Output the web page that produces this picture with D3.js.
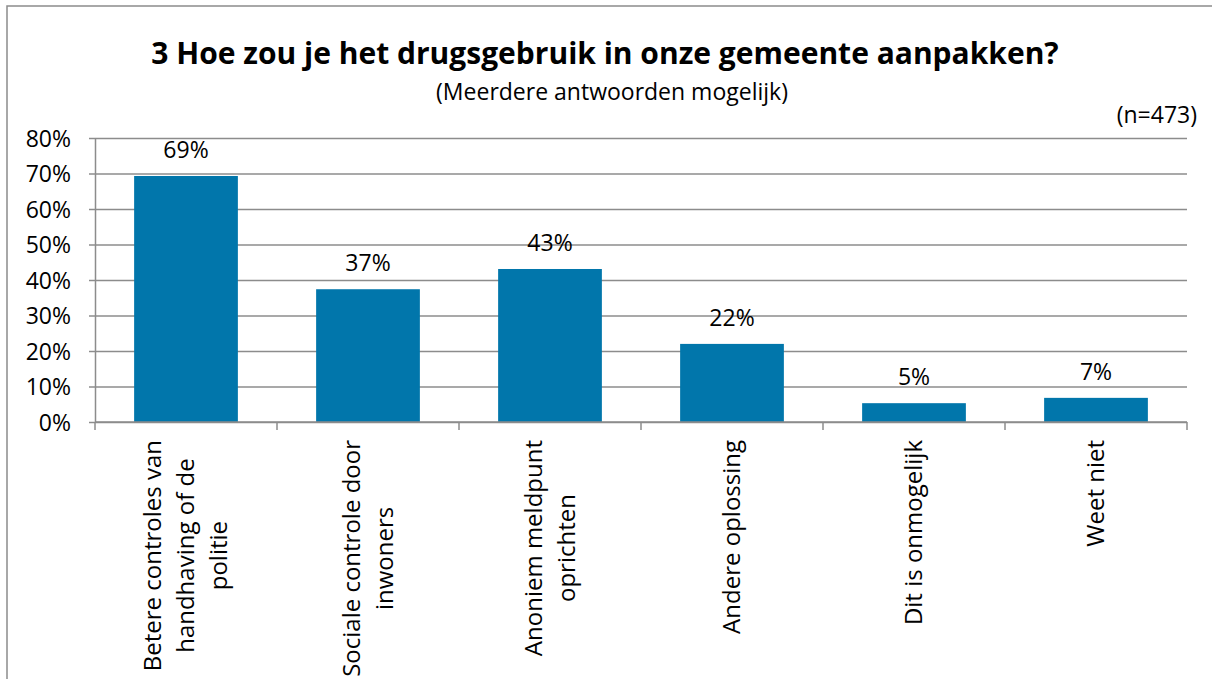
<!DOCTYPE html>
<html>
<head>
<meta charset="utf-8">
<title>Drugsgebruik aanpakken</title>
<script src="https://d3js.org/d3.v7.min.js"></script>
<style>
  body { margin: 0; background: #fff; }
  text { font-family: "Open Sans", "Segoe UI", sans-serif; fill: #000; }
  .grid line { stroke: #8c8c8c; stroke-width: 1.5; }
  .grid path { display: none; }
  .axis path, .axis line { stroke: #8c8c8c; stroke-width: 1.5; }
</style>
</head>
<body>
<div id="chart"></div>
<script>
// data
var categories = [
  ["Betere controles van", "handhaving of de", "politie"],
  ["Sociale controle door", "inwoners"],
  ["Anoniem meldpunt", "oprichten"],
  ["Andere oplossing"],
  ["Dit is onmogelijk"],
  ["Weet niet"]
];
var values = [0.693, 0.374, 0.431, 0.220, 0.053, 0.068];
var valueLabels = ["69%", "37%", "43%", "22%", "5%", "7%"];
var yTicks = [0, 0.1, 0.2, 0.3, 0.4, 0.5, 0.6, 0.7, 0.8];

var W = 1212, H = 679;
var plotLeft = 95, plotRight = 1187, plotTop = 138, plotBottom = 422;

var svg = d3.select("#chart").append("svg")
  .attr("width", W).attr("height", H);

// outer frame
svg.append("rect")
  .attr("x", 7).attr("y", 6)
  .attr("width", W + 20).attr("height", H + 20)
  .attr("fill", "none").attr("stroke", "#8c8c8c").attr("stroke-width", 1.5);

svg.append("text")
  .attr("x", 605).attr("y", 64)
  .attr("text-anchor", "middle")
  .style("font-size", "30px").style("font-weight", "bold")
  .text("3 Hoe zou je het drugsgebruik in onze gemeente aanpakken?");

svg.append("text")
  .attr("x", 612).attr("y", 100)
  .attr("text-anchor", "middle")
  .style("font-size", "23px")
  .text("(Meerdere antwoorden mogelijk)");

svg.append("text")
  .attr("x", 1197).attr("y", 123)
  .attr("text-anchor", "end")
  .style("font-size", "23px")
  .text("(n=473)");

var x = d3.scaleBand()
  .domain(d3.range(categories.length))
  .range([plotLeft, plotRight])
  .paddingInner(0.43).paddingOuter(0.215);

var y = d3.scaleLinear().domain([0, 0.8]).range([plotBottom, plotTop]);

// gridlines
svg.append("g").attr("class", "grid")
  .attr("transform", "translate(" + plotLeft + ",0)")
  .call(d3.axisLeft(y).tickValues(yTicks).tickSize(-(plotRight - plotLeft)).tickFormat(""));

// y axis
var yAx = svg.append("g").attr("class", "axis")
  .attr("transform", "translate(" + plotLeft + ",0)")
  .call(d3.axisLeft(y).tickValues(yTicks).tickSize(6).tickSizeOuter(0)
    .tickFormat(d3.format(".0%")));
yAx.selectAll("text").style("font-size", "23px").attr("x", -24).attr("dy", "0.35em");

// bars
svg.selectAll("rect.bar").data(values).enter().append("rect")
  .attr("class", "bar")
  .attr("x", function(d, i) { return x(i); })
  .attr("width", x.bandwidth())
  .attr("y", function(d) { return y(d); })
  .attr("height", function(d) { return y(0) - y(d); })
  .attr("fill", "#0176ab");

// value labels
svg.selectAll("text.val").data(values).enter().append("text")
  .attr("class", "val")
  .attr("x", function(d, i) { return x(i) + x.bandwidth() / 2; })
  .attr("y", function(d) { return y(d) - 18; })
  .attr("text-anchor", "middle")
  .style("font-size", "23px")
  .text(function(d, i) { return valueLabels[i]; });

// x axis with ticks between categories
var step = (plotRight - plotLeft) / categories.length;
var xAx = svg.append("g").attr("class", "axis");
xAx.append("line").attr("x1", plotLeft).attr("x2", plotRight).attr("y1", plotBottom).attr("y2", plotBottom);
xAx.selectAll("line.tk").data(d3.range(categories.length + 1)).enter().append("line")
  .attr("class", "tk")
  .attr("x1", function(d) { return plotLeft + d * step; })
  .attr("x2", function(d) { return plotLeft + d * step; })
  .attr("y1", plotBottom).attr("y2", plotBottom + 8);

// rotated category labels
var lineGap = 33;
categories.forEach(function(lines, i) {
  var cx = x(i) + x.bandwidth() / 2;
  var g = svg.append("g");
  var texts = g.selectAll("text").data(lines).enter().append("text")
    .attr("text-anchor", "middle")
    .style("font-size", "24px")
    .text(function(d) { return d; });
  var maxLen = 0;
  texts.each(function() { maxLen = Math.max(maxLen, this.getComputedTextLength()); });
  var yc = 440 + maxLen / 2;
  texts.attr("transform", function(d, j) {
      var off = (j - (lines.length - 1) / 2) * lineGap;
      return "translate(" + (cx + off) + "," + yc + ") rotate(-90)";
    })
    .attr("dy", "0.35em");
});
</script>
</body>
</html>
